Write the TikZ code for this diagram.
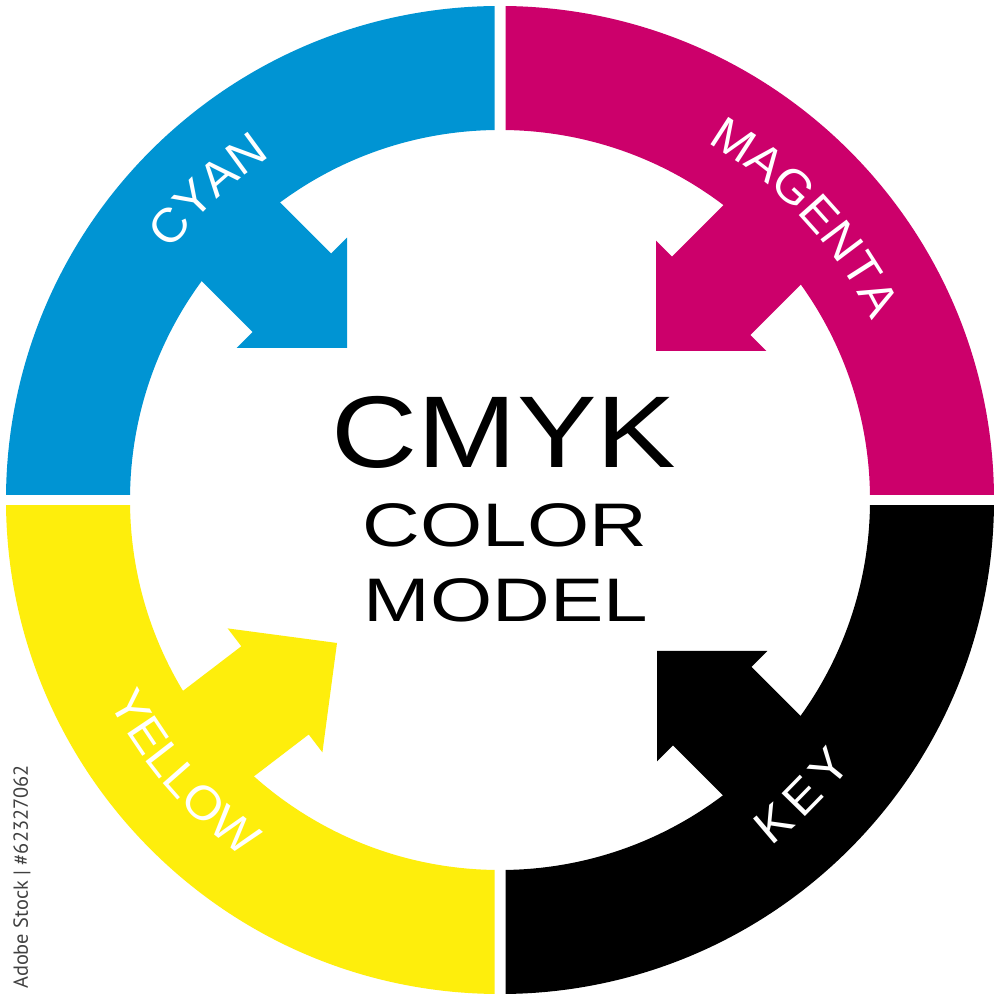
\documentclass[tikz,border=0pt]{standalone}
\usepackage{fontspec}
\setmainfont{Liberation Sans}
\newfontfamily\bigfont[FakeStretch=1.17]{Liberation Sans}
\newfontfamily\subfont[FakeStretch=1.3]{Liberation Sans}
\newfontfamily\labelfont[FakeStretch=1.05]{Liberation Sans}
\newfontfamily\stockfont{PT Sans}
\usetikzlibrary{decorations.text}
\definecolor{cmykC}{HTML}{0094D3}
\definecolor{cmykM}{HTML}{CC006B}
\definecolor{cmykY}{HTML}{FEEE0C}
\definecolor{cmykK}{HTML}{000000}
\newcommand{\lblfmt}{\labelfont\fontsize{13.5}{16}\selectfont\color{white}}

\begin{document}
\begin{tikzpicture}[
	ring/.style={even odd rule},
	inarrow/.style={shift={#1}},
	arclabel/.style={decorate, decoration={text along path, text align={fit to path}, text={|\lblfmt|#1}}}
]
	\fill[white] (-5,-5) rectangle (5,5);
	\useasboundingbox (-5,-5) rectangle (5,5);
	% the four quarters of the ring, split by a thin white gap
	\begin{scope}
		\clip (-5,0.055) rectangle (-0.055,5);
		\fill[cmykC, ring] (0,0) circle (4.94) circle (3.70);
	\end{scope}
	\begin{scope}
		\clip (0.055,0.055) rectangle (5,5);
		\fill[cmykM, ring] (0,0) circle (4.94) circle (3.70);
	\end{scope}
	\begin{scope}
		\clip (0.055,-0.055) rectangle (5,-5);
		\fill[cmykK, ring] (0,0) circle (4.94) circle (3.70);
	\end{scope}
	\begin{scope}
		\clip (-5,-0.055) rectangle (-0.055,-5);
		\fill[cmykY, ring] (0,0) circle (4.94) circle (3.70);
	\end{scope}
	% arrows pointing in, square tip
	\foreach \tip/\ang/\col in {{(-1.53,1.52)}/135/cmykC, {(1.56,1.49)}/45/cmykM, {(1.57,-1.51)}/-45/cmykK, {(-1.63,-1.43)}/217.4/cmykY}
		\fill[\col, inarrow=\tip, rotate=\ang] (0,0) -- (0.78,0.78) -- (0.78,0.555) -- (2.1,0.555)
			-- (2.1,-0.555) -- (0.78,-0.555) -- (0.78,-0.78) -- cycle;
	% labels along the ring
	\path[arclabel=CYAN] (142.9:4.13) arc[start angle=142.9, end angle=124.7, radius=4.13];
	\path[arclabel=MAGENTA] (59.9:4.13) arc[start angle=59.9, end angle=28.0, radius=4.13];
	\path[arclabel=YELLOW] (207.3:4.40) arc[start angle=207.3, end angle=234.3, radius=4.40];
	\path[arclabel=KEY] (-51.9:4.40) arc[start angle=-51.9, end angle=-36.9, radius=4.40];
	% title in the middle
	\node[anchor=base, inner sep=0pt, font=\bigfont\fontsize{29}{34}\selectfont] (cmyk) at (0.04,0.32) {CMYK};
	\node[anchor=base, inner sep=0pt, font=\subfont\fontsize{17.5}{21}\selectfont] (color) at (0.05,-0.47) {COLOR};
	\node[anchor=base, inner sep=0pt, font=\subfont\fontsize{17.5}{21}\selectfont] (model) at (0.06,-1.22) {MODEL};
	\node[rotate=90, inner sep=0pt, text=black!75, font=\stockfont\fontsize{5.8}{7}\selectfont] (stock) at (-4.78,-3.77) {Adobe Stock | \#62327062};
\end{tikzpicture}
\end{document}
